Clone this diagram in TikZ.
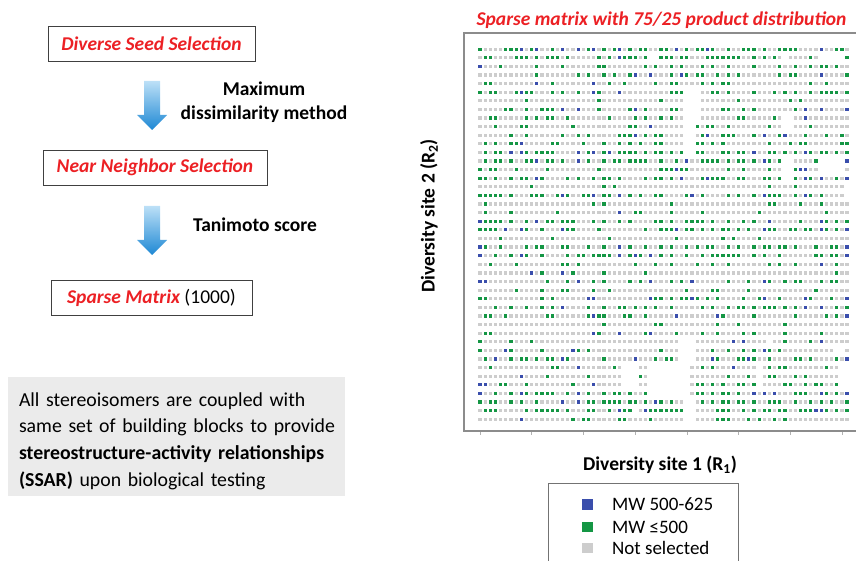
\documentclass[tikz,border=0pt]{standalone}
\usepackage{fontspec}
\setmainfont{Carlito}
\usetikzlibrary{positioning}

\definecolor{titlered}{RGB}{236,32,36}
\definecolor{mwgreen}{RGB}{20,150,68}
\definecolor{mwblue}{RGB}{58,78,172}
\definecolor{nosel}{RGB}{205,205,205}
\definecolor{notebg}{RGB}{235,235,235}
\definecolor{arrowtop}{RGB}{188,224,247}
\definecolor{arrowbot}{RGB}{30,136,212}

\tikzset{
  stage/.style={draw=black!75, line width=0.9pt, minimum height=35pt, inner sep=0pt,
    text=titlered, font=\fontsize{19.5}{23}\selectfont\bfseries\itshape},
  method/.style={align=center, font=\fontsize{19.5}{24}\selectfont\bfseries},
  axislabel/.style={font=\fontsize{19.5}{23}\selectfont\bfseries},
  legendsq/.style={minimum size=10.5pt, inner sep=0pt},
  legendtxt/.style={inner sep=0pt, anchor=west, font=\fontsize{19}{23}\selectfont},
  dot0/.style={fill=nosel},
  dot1/.style={fill=mwgreen},
  dot2/.style={fill=mwblue},
}

% shaded block arrow: centre x, top of shaft, base of head, tip
\newcommand{\blockdown}[4]{%
  \shade[top color=arrowtop, bottom color=arrowbot]
    (#1-8,#2) -- (#1+8,#2) -- (#1+8,#3) -- (#1+15,#3) -- (#1,#4)
    -- (#1-15,#3) -- (#1-8,#3) -- cycle;
}

\begin{document}
\begin{tikzpicture}[x=1pt, y=-1pt]
\useasboundingbox (0,0) rectangle (856,561);

% workflow on the left
\node[stage, minimum width=207pt] (seed) at (151.5,43.5) {Diverse Seed Selection};
\node[stage, minimum width=224pt] (near) at (155,167.5) {Near Neighbor Selection};
\node[stage, minimum width=201pt] (sparse) at (151.5,297.5)
  {Sparse Matrix {\normalfont\color{black}(1000)}};

\blockdown{152}{81}{115}{130}
\blockdown{152}{206}{240}{255}

\node[method] (maxdis) at (264,102) {Maximum\\dissimilarity method};
\node[method] (tani) at (255,225) {Tanimoto score};

\fill[notebg] (8,377) rectangle (345,496);
\node[align=left, text width=315pt, inner sep=0pt,
  font=\fontsize{19.8}{26.7}\selectfont] (note) at (176.5,441)
  {\makebox[315pt][s]{All stereoisomers are coupled with}\\
   \makebox[315pt][s]{same set of building blocks to provide}\\
   \makebox[315pt][s]{\textbf{stereostructure-activity relationships}}\\
   \textbf{(SSAR)} upon biological testing};

% sparse matrix plot
\node[text=titlered, font=\fontsize{19.5}{23}\selectfont\bfseries\itshape] (ptitle) at (661.5,20)
  {Sparse matrix with 75/25 product distribution};
\draw[black!45, line width=1.3pt] (464,33) rectangle (880,431);

\pgfmathsetseed{2071}
\foreach \r in {0,...,43}{
  \pgfmathsetmacro{\rw}{rnd}
  \foreach \c in {0,...,71}{
    \pgfmathsetmacro{\cw}{0.55+0.45*sin(\c*137.5)}
    \pgfmathsetmacro{\pb}{mod(\c*7,11)<3 ? 0.45 : 0.05}
    \pgfmathtruncatemacro{\k}{rnd<0.1+0.85*\rw*\cw ? (rnd<\pb ? 2 : 1) : 0}
    \fill[dot\k] (480+5.17*\c-1.6,49.3+8.6*\r-1.6) rectangle ++(3.2,3.2);
  }
}
% combinations that were never made
\foreach \ca/\cb/\ra/\rb in {33/34/1/1, 59/59/1/1, 66/70/1/1, 40/42/5/8, 59/60/8/9,
    59/60/13/15, 66/70/13/14, 40/41/9/12, 71/71/16/17, 39/41/34/36, 56/56/34/34,
    69/70/35/35, 28/30/37/39, 33/40/37/40, 54/54/37/39, 70/71/37/39, 40/41/41/43, 30/30/42/42}
  \fill[white] (480+5.17*\ca-2.5,49.3+8.6*\ra-4) rectangle (480+5.17*\cb+2.5,49.3+8.6*\rb+4);

\foreach \t in {0,10,...,70}
  \draw[black!30, line width=0.6pt] (480+5.17*\t,431.5) -- ++(0,3);

\node[axislabel] (xlab) at (660,465) {Diversity site 1 (R\textsubscript{1})};
\node[axislabel, rotate=90] (ylab) at (429,216) {Diversity site 2 (R\textsubscript{2})};

% legend
\draw[black!55, line width=1pt] (548,483) rectangle (738,575);
\node[legendsq, fill=mwblue] (lgblue) at (587.5,504.5) {};
\node[legendsq, fill=mwgreen] (lggreen) at (587.5,527) {};
\node[legendsq, fill=nosel] (lggray) at (587.5,548) {};
\node[legendtxt, right=19pt of lgblue.east, anchor=west] (lbblue) {MW 500-625};
\node[legendtxt, right=19pt of lggreen.east, anchor=west] (lbgreen) {MW ≤500};
\node[legendtxt, right=19pt of lggray.east, anchor=west] (lbgray) {Not selected};

\end{tikzpicture}
\end{document}
